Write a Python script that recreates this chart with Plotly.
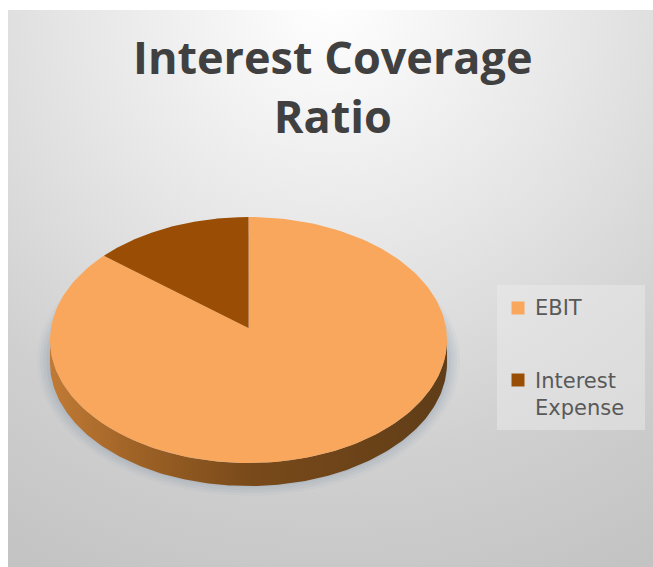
import numpy as np
import plotly.graph_objects as go

# Chart content
title_text = "Interest Coverage<br>Ratio"
categories = ["EBIT", "Interest<br>Expense"]
values = [87, 13]
face_colors = ["#F9A75C", "#9A4D04"]

# Page-sized coordinate frame, in pixels with y pointing down
W, H = 653, 567
CX, CY, RX, RY = 248.5, 340.0, 198.5, 123.0
APEX_Y = 328.0
DEPTH = 23.0

# Key layout: swatch centres and label block centres
KEY_SWATCH_X = 518
KEY_SWATCH_Y = [308, 380]
KEY_LABEL_X = 533
KEY_LABEL_Y = [308, 394]
KEY_BOX_X = [497, 645, 645, 497, 497]
KEY_BOX_Y = [285, 285, 430, 430, 285]


def arc_points(start_deg, end_deg, n=180):
    """Points on the tilted disc's rim; angles run clockwise from the top."""
    t = np.radians(np.linspace(start_deg, end_deg, n))
    return CX + RX * np.sin(t), CY - RY * np.cos(t)


fig = go.Figure()

# Background panel with a soft radial falloff from the top centre
fig.add_trace(go.Scatter(
    x=[-322, 982, 982, -322, -322], y=[-640, -640, 640, 640, -640],
    mode="lines", line=dict(width=0), fill="toself",
    fillgradient=dict(
        type="radial",
        colorscale=[[0, "#FFFFFF"], [0.38, "#E7E7E7"], [0.72, "#D0D0D0"], [1, "#C3C3C3"]],
    ),
    hoverinfo="skip", showlegend=False,
))

# Soft drop shadow under the disc, built from translucent rim offsets
for grow, alpha in [(13, 0.05), (10, 0.07), (7, 0.09), (4, 0.11), (1, 0.14)]:
    t = np.radians(np.linspace(0, 360, 240))
    fig.add_trace(go.Scatter(
        x=CX + (RX + grow) * np.sin(t),
        y=CY + DEPTH - 2 - (RY + grow * 0.9) * np.cos(t),
        mode="lines", line=dict(width=0), fill="toself",
        fillcolor=f"rgba(120,140,165,{alpha})",
        hoverinfo="skip", showlegend=False,
    ))

# Disc wall: the lower half of the rim swept down by the disc depth
wx, wy = arc_points(90, 270)
fig.add_trace(go.Scatter(
    x=np.r_[wx, wx[::-1]], y=np.r_[wy, wy[::-1] + DEPTH],
    mode="lines", line=dict(width=0), fill="toself",
    fillgradient=dict(
        type="horizontal", start=CX + RX, stop=CX - RX,
        colorscale=[[0, "#5E3D18"], [0.18, "#6A4218"], [0.5, "#794A1A"],
                    [0.75, "#9A5F24"], [1, "#C07A35"]],
    ),
    hoverinfo="skip", showlegend=False,
))

# Top face wedges, sized from the values: EBIT runs clockwise from 12 o'clock
total = sum(values)
angle = 0.0
for value, color, name in zip(values, face_colors, categories):
    sweep = 360.0 * value / total
    ax, ay = arc_points(angle, angle + sweep)
    fig.add_trace(go.Scatter(
        x=np.r_[CX, ax, CX], y=np.r_[APEX_Y, ay, APEX_Y],
        mode="lines", line=dict(width=0), fill="toself", fillcolor=color,
        hoverinfo="skip", showlegend=False,
    ))
    angle += sweep

# Key backing, then its swatches
fig.add_trace(go.Scatter(
    x=KEY_BOX_X, y=KEY_BOX_Y, mode="lines", line=dict(width=0), fill="toself",
    fillcolor="rgba(238,238,238,0.45)", hoverinfo="skip", showlegend=False,
))
for sy, color, name in zip(KEY_SWATCH_Y, face_colors, categories):
    fig.add_trace(go.Scatter(
        x=[KEY_SWATCH_X], y=[sy], mode="markers", name=name.replace("<br>", " "),
        marker=dict(symbol="square", size=13, color=color),
        hoverinfo="name", showlegend=False,
    ))

title_note = dict(
    x=333, y=85.5, xref="x", yref="y", text=title_text, showarrow=False,
    font=dict(family="Open Sans", size=45, color="#404040", weight=700),
)
key_notes = [
    dict(x=KEY_LABEL_X, y=y, xref="x", yref="y", text=name, showarrow=False,
         xanchor="left", yanchor="middle", align="left",
         font=dict(family="DejaVu Sans", size=21, color="#595959"))
    for name, y in zip(categories, KEY_LABEL_Y)
]

fig.update_layout(
    width=W, height=H, margin=dict(l=0, r=0, t=0, b=0),
    paper_bgcolor="#FFFFFF", plot_bgcolor="#FFFFFF",
    xaxis=dict(range=[0, W], visible=False, fixedrange=True),
    yaxis=dict(range=[H, 0], visible=False, fixedrange=True),
    shapes=[
        # White margin on the left and top of the panel
        dict(type="rect", xref="x", yref="y", x0=0, x1=8, y0=0, y1=H,
             fillcolor="#FFFFFF", line_width=0, layer="above"),
        dict(type="rect", xref="x", yref="y", x0=0, x1=W, y0=0, y1=10,
             fillcolor="#FFFFFF", line_width=0, layer="above"),
    ],
    annotations=[title_note] + key_notes,
    showlegend=False,
)

fig.write_html("out.html")
